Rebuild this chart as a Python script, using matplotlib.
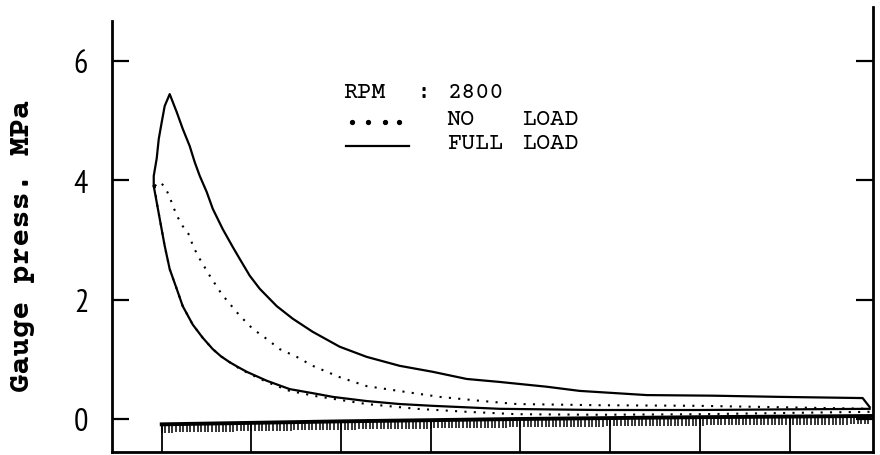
import matplotlib
matplotlib.use("Agg")
import matplotlib.pyplot as plt
import numpy as np

# cylinder pressure at 2800 rpm; x in stroke divisions, 0 = TDC
full_exp_x = [-0.089, -0.089, -0.056, -0.033, 0.000, 0.033, 0.089, 0.167, 0.234, 0.312, 0.368, 0.424,
              0.502, 0.569, 0.680, 0.792, 0.870, 0.981, 1.093, 1.282, 1.460, 1.683, 1.984, 2.285,
              2.653, 3.021, 3.400, 3.768, 4.292, 4.660, 5.407, 6.143, 6.890, 7.815, 7.893]
full_exp_p = [3.90, 4.07, 4.36, 4.69, 4.97, 5.24, 5.44, 5.14, 4.86, 4.57, 4.30, 4.07,
              3.80, 3.52, 3.18, 2.88, 2.68, 2.40, 2.18, 1.89, 1.68, 1.46, 1.21, 1.04,
              0.89, 0.79, 0.67, 0.62, 0.54, 0.47, 0.40, 0.39, 0.37, 0.35, 0.20]
full_comp_x = [-0.089, -0.056, -0.022, 0.033, 0.089, 0.167, 0.234, 0.346, 0.457, 0.569, 0.660, 0.758,
               0.850, 0.948, 1.171, 1.427, 1.728, 1.906, 2.285, 2.653, 3.021, 3.768, 4.883, 5.998, 7.893]
full_comp_p = [3.90, 3.63, 3.35, 2.90, 2.51, 2.18, 1.89, 1.58, 1.36, 1.17, 1.05, 0.95,
               0.87, 0.79, 0.64, 0.50, 0.42, 0.37, 0.30, 0.25, 0.22, 0.17, 0.15, 0.15, 0.17]

noload_exp_x = [-0.078, -0.022, 0.033, 0.089, 0.123, 0.178, 0.234, 0.312, 0.346, 0.424, 0.535, 0.669,
                0.758, 0.870, 1.014, 1.171, 1.315, 1.505, 1.683, 1.984, 2.285, 2.731, 3.099, 3.579,
                3.958, 4.883, 5.998, 7.893]
noload_exp_p = [3.90, 3.97, 3.89, 3.72, 3.57, 3.38, 3.23, 3.07, 2.90, 2.68, 2.40, 2.09,
                1.93, 1.73, 1.51, 1.34, 1.17, 1.04, 0.89, 0.70, 0.55, 0.45, 0.37, 0.30,
                0.25, 0.23, 0.22, 0.17]
noload_comp_x = [-0.078, -0.056, -0.022, 0.033, 0.089, 0.167, 0.234, 0.346, 0.457, 0.569, 0.660, 0.758,
                 0.850, 0.948, 1.171, 1.427, 1.728, 2.285, 2.843, 3.400, 3.958, 4.883, 6.000, 7.893]
noload_comp_p = [3.90, 3.63, 3.35, 2.90, 2.51, 2.18, 1.89, 1.58, 1.36, 1.17, 1.05, 0.95,
                 0.86, 0.78, 0.62, 0.47, 0.38, 0.25, 0.17, 0.12, 0.08, 0.07, 0.08, 0.12]

# intake / exhaust line near atmospheric
pump_x = [0.0, 2.0, 4.0, 6.0, 7.93]
pump_p = [-0.09, -0.04, 0.0, 0.03, 0.05]

yticks = [0, 2, 4, 6]
ytick_labels = ["0", "2", "4", "6"]

mono = ["Courier Prime", "FreeMono", "DejaVu Sans Mono"]
narrow = ["PT Sans Narrow", "Roboto Condensed", "DejaVu Sans"]

fig = plt.figure(figsize=(8.8, 4.56), dpi=100)
ax = fig.add_axes([0.127, 0.0066, 0.865, 0.976])
ax.set_xlim(-0.557, 7.93)
ax.set_ylim(-0.553, 6.90)

ax.plot(full_exp_x, full_exp_p, color="black", lw=1.6)
ax.plot(full_comp_x, full_comp_p, color="black", lw=1.6)
ax.plot(noload_exp_x, noload_exp_p, color="black", lw=1.5, ls=(0, (1, 3.5)))
ax.plot(noload_comp_x, noload_comp_p, color="black", lw=1.5, ls=(0, (1, 3.5)))

# hatched scale hanging under the pumping line
ax.plot(pump_x, pump_p, color="black", lw=2.8)
minor_x = np.arange(0, 7.9, 0.04)
minor_top = np.interp(minor_x, pump_x, pump_p)
ax.vlines(minor_x, minor_top - 0.14, minor_top, color="black", lw=1.1)
major_x = np.arange(0, 8)
major_top = np.interp(major_x, pump_x, pump_p)
ax.vlines(major_x, -0.553, major_top, color="black", lw=1.3)

# legend block
fs = 17
ax.text(2.018, 5.48, "RPM", fontsize=fs, family=mono, va="center")
ax.text(2.843, 5.48, ":", fontsize=fs, family=mono, va="center")
ax.text(3.188, 5.48, "2800", fontsize=fs, family=mono, va="center")
ax.text(3.177, 5.025, "NO", fontsize=fs, family=mono, va="center")
ax.text(4.013, 5.025, "LOAD", fontsize=fs, family=mono, va="center")
ax.text(3.177, 4.62, "FULL", fontsize=fs, family=mono, va="center")
ax.text(4.013, 4.62, "LOAD", fontsize=fs, family=mono, va="center")
ax.plot([2.12, 2.30, 2.49, 2.65], [4.97] * 4, ls="none", marker="o", ms=2.8, color="black")
ax.plot([2.06, 2.76], [4.57, 4.57], color="black", lw=1.6)

ax.set_yticks(yticks)
ax.set_yticklabels(ytick_labels, family=narrow, fontsize=23)
ax.set_xticks([])
ax.tick_params(axis="y", direction="in", length=12, width=1.6, pad=17, right=True)
fig.text(23 / 880, 1 - 246 / 456, "Gauge press. MPa", family=mono, fontsize=22, fontweight="bold",
         rotation=90, ha="center", va="center")

ax.spines["top"].set_visible(False)
ax.spines["left"].set_bounds(-0.553, 6.67)
for side in ["left", "right", "bottom"]:
    ax.spines[side].set_linewidth(2.0)

fig.savefig("out.png", dpi=100, facecolor="white")
